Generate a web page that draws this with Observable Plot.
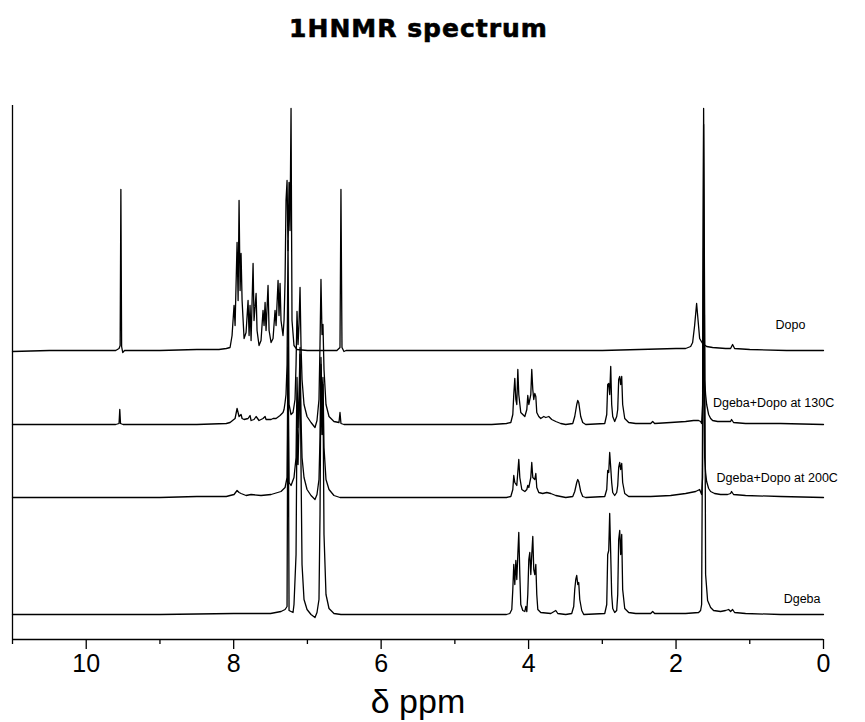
<!DOCTYPE html>
<html><head><meta charset="utf-8">
<script src="https://cdn.jsdelivr.net/npm/d3@7"></script>
<script src="https://cdn.jsdelivr.net/npm/@observablehq/plot@0.6"></script>
<style>
body{margin:0;background:#fff;}
#title{width:837px;height:45px;padding-top:15px;line-height:28px;text-align:center;font-family:"DejaVu Sans",sans-serif;font-weight:bold;font-size:25px;letter-spacing:1px;color:#000;-webkit-text-stroke:0.6px #000;}
</style></head><body>
<div id="title">1HNMR spectrum</div>
<div id="chart"></div>
<script>
// series names, vertical stacking offsets (intensity units) and label anchors
const seriesNames = ["Dopo", "Dgeba+Dopo at 130C", "Dgeba+Dopo at 200C", "Dgeba"];
const seriesOffsets = [289, 215, 142, 25];
const labelPpm = [0.65, 1.50, 1.45, 0.54];
const labelLevel = [315, 237, 162, 41];
const majorTicks = [0, 2, 4, 6, 8, 10];
const minorTicks = [1, 3, 5, 7, 9, 11];

// spectra: [chemical shift (ppm), intensity above own baseline]
const dopo = [[11.0,-1],[10.5,0],[10.0,0],[9.60,0],[9.555,2],[9.54,5],[9.53,161],[9.52,4],[9.505,-2],[9.48,0],[9.0,0],[8.5,1],[8.2,1],[8.1,2],
[8.049,3],[8.022,15],[7.995,45],[7.981,25],[7.954,108],[7.940,50],[7.927,150],[7.913,60],[7.900,97],[7.886,50],[7.859,12],[7.832,18],[7.805,50],[7.791,15],[7.778,45],[7.764,10],[7.737,87],[7.724,30],[7.696,57],[7.683,20],[7.656,5],[7.629,10],[7.602,40],[7.588,25],[7.574,48],[7.561,20],[7.534,65],[7.520,20],[7.493,8],[7.466,12],[7.439,40],[7.425,25],[7.398,70],[7.385,35],[7.371,67],[7.358,30],[7.331,15],[7.317,30],[7.303,70],[7.290,150],[7.276,170],[7.263,100],[7.249,168],[7.236,120],[7.222,242],[7.209,30],[7.182,5],[7.141,1],[7.0,0],[6.8,0],[6.6,0],[6.558,3],[6.545,161],[6.531,3],[6.504,-1],[6.477,0],[6.0,0],[5.0,0],[4.0,0],[3.0,0],[2.5,1],[2.0,2],[1.870,2],[1.802,4],[1.775,8],[1.748,25],[1.721,47],[1.707,35],[1.680,12],[1.640,7],[1.585,4],[1.504,3],[1.328,2],[1.260,2],[1.233,6],[1.206,2],[1.0,1],[0.5,0],[0.0,0]];

const dopo130 = [[11.0,0],[10.0,0],[9.60,0],[9.555,1],[9.545,15],[9.535,1],[9.5,0],[8.5,0],[8.1,1],[8.049,2],[7.981,6],[7.954,16],[7.927,8],[7.900,10],[7.886,6],[7.859,5],[7.805,6],[7.778,9],[7.764,4],[7.724,5],[7.696,8],[7.656,4],[7.602,6],[7.574,8],[7.561,5],[7.493,5],[7.466,6],[7.425,6],[7.371,9],[7.331,12],[7.317,15],[7.303,22],[7.290,30],[7.276,60],[7.263,184],[7.249,20],[7.222,10],[7.195,12],[7.168,25],[7.154,60],[7.141,113],[7.127,80],[7.114,100],[7.100,137],[7.087,80],[7.073,45],[7.046,20],[7.005,8],[6.951,2],[6.897,-3],[6.870,4],[6.843,25],[6.829,80],[6.816,145],[6.802,90],[6.789,100],[6.775,55],[6.748,20],[6.707,8],[6.640,3],[6.572,2],[6.558,12],[6.545,1],[6.504,0],[6.0,0],[5.0,0],[4.5,0],[4.3,1],[4.241,2],[4.214,10],[4.201,30],[4.187,46],[4.173,25],[4.160,20],[4.146,55],[4.133,30],[4.106,12],[4.079,10],[4.051,8],[4.024,15],[4.011,29],[3.997,20],[3.970,30],[3.957,55],[3.943,35],[3.930,25],[3.916,31],[3.902,28],[3.889,12],[3.862,8],[3.835,6],[3.794,8],[3.767,7],[3.726,8],[3.686,5],[3.631,3],[3.564,1],[3.496,0],[3.401,1],[3.374,8],[3.347,20],[3.333,24],[3.320,22],[3.293,8],[3.266,2],[3.225,0],[2.967,1],[2.940,10],[2.927,40],[2.913,41],[2.900,30],[2.886,58],[2.873,20],[2.859,8],[2.832,3],[2.805,8],[2.791,15],[2.778,45],[2.764,48],[2.751,40],[2.737,48],[2.724,20],[2.696,6],[2.642,2],[2.547,1],[2.344,1],[2.317,3],[2.290,1],[2.073,2],[1.870,3],[1.762,4],[1.694,4],[1.667,3],[1.653,1],[1.640,20],[1.626,300],[1.612,45],[1.599,30],[1.585,20],[1.558,10],[1.531,6],[1.504,4],[1.436,3],[1.328,3],[1.260,3],[1.247,5],[1.220,2],[1.057,1],[0.583,1],[0.0,0]];

const dopo200 = [[11.0,0],[9.0,0],[8.5,1],[8.1,1],[8.049,2],[7.995,3],[7.954,7],[7.927,5],[7.900,4],[7.832,2],[7.764,3],[7.629,2],[7.493,3],[7.358,6],[7.303,10],[7.276,20],[7.263,150],[7.249,15],[7.222,12],[7.182,20],[7.154,40],[7.141,120],[7.127,70],[7.114,100],[7.100,150],[7.087,80],[7.073,40],[7.046,20],[7.005,8],[6.951,2],[6.897,-2],[6.870,3],[6.843,18],[6.829,60],[6.816,140],[6.802,90],[6.789,120],[6.775,50],[6.748,18],[6.707,8],[6.640,2],[6.558,0],[5.0,0],[4.3,0],[4.241,1],[4.214,8],[4.201,22],[4.187,15],[4.160,12],[4.133,38],[4.119,20],[4.092,8],[4.051,6],[4.024,8],[4.011,12],[3.997,10],[3.970,20],[3.957,35],[3.943,20],[3.916,18],[3.902,24],[3.889,10],[3.862,5],[3.808,4],[3.753,5],[3.699,4],[3.631,2],[3.564,1],[3.496,0],[3.401,1],[3.374,6],[3.347,15],[3.333,18],[3.320,16],[3.293,6],[3.266,1],[3.225,0],[2.967,1],[2.940,8],[2.927,27],[2.913,25],[2.900,45],[2.886,30],[2.873,15],[2.859,5],[2.832,2],[2.805,5],[2.791,12],[2.778,30],[2.764,35],[2.751,28],[2.737,34],[2.724,15],[2.696,4],[2.642,1],[2.344,1],[2.073,2],[1.870,4],[1.734,6],[1.680,8],[1.653,3],[1.640,20],[1.626,250],[1.612,40],[1.599,25],[1.585,16],[1.558,9],[1.531,6],[1.477,4],[1.396,3],[1.301,3],[1.260,4],[1.247,6],[1.220,3],[1.057,2],[0.583,1],[0.0,0]];

const dgeba = [[11.0,0],[9.0,0],[8.0,1],[7.5,1],[7.358,3],[7.303,5],[7.276,8],[7.263,280],[7.249,4],[7.222,3],[7.195,2],[7.182,10],[7.154,60],[7.141,200],[7.127,150],[7.114,190],[7.100,260],[7.087,150],[7.073,50],[7.046,15],[7.005,5],[6.951,0],[6.897,-3],[6.870,2],[6.843,15],[6.829,100],[6.816,250],[6.802,180],[6.789,230],[6.775,80],[6.748,20],[6.707,6],[6.640,1],[6.545,0],[5.0,0],[4.3,0],[4.255,1],[4.228,5],[4.214,25],[4.201,50],[4.187,30],[4.173,54],[4.160,35],[4.146,60],[4.133,82],[4.119,40],[4.106,10],[4.079,4],[4.051,3],[4.038,8],[4.024,3],[4.011,20],[3.997,55],[3.984,62],[3.970,40],[3.957,60],[3.943,78],[3.930,45],[3.916,40],[3.902,50],[3.889,20],[3.875,5],[3.835,2],[3.699,1],[3.631,4],[3.604,1],[3.496,0],[3.415,1],[3.388,8],[3.374,25],[3.360,35],[3.347,39],[3.333,30],[3.320,32],[3.306,15],[3.279,4],[3.252,0],[2.967,1],[2.940,10],[2.927,60],[2.913,64],[2.900,101],[2.886,60],[2.873,20],[2.859,6],[2.832,2],[2.805,4],[2.791,20],[2.778,75],[2.764,84],[2.751,60],[2.737,80],[2.724,25],[2.696,6],[2.642,2],[2.547,1],[2.344,1],[2.317,3],[2.290,1],[1.870,1],[1.694,2],[1.667,4],[1.653,10],[1.640,200],[1.626,506],[1.612,300],[1.599,40],[1.572,14],[1.531,7],[1.491,4],[1.396,3],[1.328,4],[1.287,5],[1.260,3],[1.233,5],[1.206,2],[1.057,1],[0.583,0],[0.0,0]];

const spectra = [dopo, dopo130, dopo200, dgeba];

const points = spectra.flatMap((s, i) => s.map(([ppm, h]) => ({series: seriesNames[i], ppm, level: seriesOffsets[i] + h})));
const labels = seriesNames.map((name, i) => ({name, ppm: labelPpm[i], level: labelLevel[i]}));

const chart = Plot.plot({
  width: 865, height: 662,
  marginTop: 45, marginBottom: 83, marginLeft: 12, marginRight: 42,
  x: {domain: [11, 0], label: null},
  y: {domain: [0, 534], axis: null},
  style: {fontFamily: "'Liberation Sans', Arial, sans-serif", background: "white", color: "black", overflow: "visible"},
  marks: [
    Plot.ruleY([0], {stroke: "black", strokeWidth: 1.3}),
    Plot.ruleX([11], {y1: 0, y2: 534, stroke: "black", strokeWidth: 1.3}),
    Plot.axisX(majorTicks, {tickSize: 10, tickPadding: 5, fontSize: 25, fontFamily: "'Liberation Sans', Arial, sans-serif", strokeWidth: 1.3, label: null, tickFormat: d => String(d)}),
    Plot.axisX(minorTicks, {tickSize: 5, strokeWidth: 1.3, label: null, tickFormat: () => ""}),
    Plot.line(points, {x: "ppm", y: "level", z: "series", stroke: "black", strokeWidth: 1.3, curve: "linear"}),
    Plot.text(labels, {x: "ppm", y: "level", text: "name", textAnchor: "start", fontSize: 12.5, fill: "black"}),
    Plot.text(["δ ppm"], {frameAnchor: "bottom", dy: 73, fontSize: 34, fill: "black"})
  ]
});
document.getElementById("chart").appendChild(chart);
</script>
</body></html>
